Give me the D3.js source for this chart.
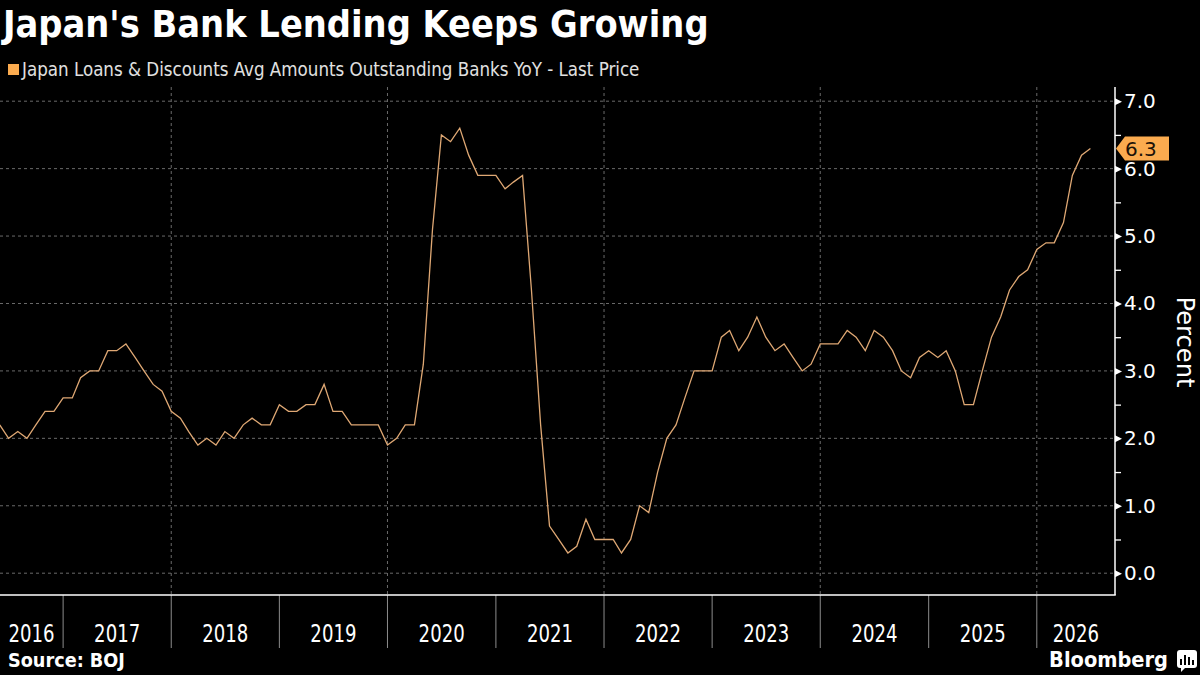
<!DOCTYPE html>
<html>
<head>
<meta charset="utf-8">
<script src="https://cdn.jsdelivr.net/npm/d3@7"></script>
<style>
  html, body { margin: 0; padding: 0; background: #000; }
  svg { display: block; }
</style>
</head>
<body>
<svg id="chart" width="1200" height="675"></svg>
<script>
// ---- data ----
var titleText = "Japan's Bank Lending Keeps Growing";
var seriesName = "Japan Loans & Discounts Avg Amounts Outstanding Banks YoY - Last Price";
var firstMonth = "2016-06";

// monthly YoY %, Jun 2016 onwards
var loanGrowth = [
  2.2, 2.0, 2.1, 2.0, 2.2, 2.4, 2.4,                          // 2016
  2.6, 2.6, 2.9, 3.0, 3.0, 3.3, 3.3, 3.4, 3.2, 3.0, 2.8, 2.7, // 2017
  2.4, 2.3, 2.1, 1.9, 2.0, 1.9, 2.1, 2.0, 2.2, 2.3, 2.2, 2.2, // 2018
  2.5, 2.4, 2.4, 2.5, 2.5, 2.8, 2.4, 2.4, 2.2, 2.2, 2.2, 2.2, // 2019
  1.9, 2.0, 2.2, 2.2, 3.1, 5.1, 6.5, 6.4, 6.6, 6.2, 5.9, 5.9, // 2020
  5.9, 5.7, 5.8, 5.9, 4.2, 2.2, 0.7, 0.5, 0.3, 0.4, 0.8, 0.5, // 2021
  0.5, 0.5, 0.3, 0.5, 1.0, 0.9, 1.5, 2.0, 2.2, 2.6, 3.0, 3.0, // 2022
  3.0, 3.5, 3.6, 3.3, 3.5, 3.8, 3.5, 3.3, 3.4, 3.2, 3.0, 3.1, // 2023
  3.4, 3.4, 3.4, 3.6, 3.5, 3.3, 3.6, 3.5, 3.3, 3.0, 2.9, 3.2, // 2024
  3.3, 3.2, 3.3, 3.0, 2.5, 2.5, 3.0, 3.5, 3.8, 4.2, 4.4, 4.5, // 2025
  4.8, 4.9, 4.9, 5.2, 5.9, 6.2, 6.3                           // 2026
];

var yearLabels = ["2016", "2017", "2018", "2019", "2020", "2021",
                  "2022", "2023", "2024", "2025", "2026"];
var yTicks = [0, 1, 2, 3, 4, 5, 6, 7];
var yMinorTicks = [0.5, 1.5, 2.5, 3.5, 4.5, 5.5, 6.5];

// ---- layout ----
var plot = { left: 0, right: 1115, top: 87, bottom: 595 };
var lineColor = "#dfa874";
var accent = "#fbab4f";
var condensed = "'DejaVu Sans Condensed', 'DejaVu Sans', sans-serif";

var svg = d3.select("#chart");
svg.append("rect").attr("width", 1200).attr("height", 675).attr("fill", "#000");

var parseMonth = d3.timeParse("%Y-%m");
var start = parseMonth(firstMonth);
var data = loanGrowth.map(function(v, i) {
  return { date: d3.timeMonth.offset(start, i), value: v };
});

var x = d3.scaleTime()
    .domain([new Date(2016, 0, 1), new Date(2026, 0, 1)])
    .range([-45.3, 1036.8]);
var y = d3.scaleLinear()
    .domain([0, 7])
    .range([573.2, 101.2]);

// shrink / grow a text so it fills a given width
function fitWidth(sel, w) {
  var len = sel.node().getComputedTextLength();
  var fs = parseFloat(sel.attr("font-size"));
  sel.attr("font-size", fs * w / len);
}

svg.append("clipPath").attr("id", "plotClip")
  .append("rect")
    .attr("x", plot.left).attr("y", plot.top)
    .attr("width", plot.right - plot.left).attr("height", plot.bottom - plot.top);

// title + legend
var t = svg.append("text")
    .attr("x", 3).attr("y", 37)
    .attr("font-family", condensed).attr("font-weight", "bold")
    .attr("font-size", 34).attr("fill", "#fff")
    .text(titleText);
fitWidth(t, 706);

svg.append("rect")
    .attr("x", 8).attr("y", 64).attr("width", 11).attr("height", 11)
    .attr("fill", accent);
var lg = svg.append("text")
    .attr("x", 22).attr("y", 76)
    .attr("font-family", condensed)
    .attr("font-size", 16).attr("fill", "#e0e0e0")
    .text(seriesName);
fitWidth(lg, 618);

// grid
var grid = svg.append("g").attr("class", "grid").attr("clip-path", "url(#plotClip)");
grid.selectAll("line.h")
  .data(yTicks)
  .enter().append("line")
    .attr("class", "h")
    .attr("x1", plot.left).attr("x2", plot.right)
    .attr("y1", function(d) { return y(d); })
    .attr("y2", function(d) { return y(d); })
    .attr("stroke", "#6a6a6a").attr("stroke-width", 1)
    .attr("stroke-dasharray", "3,3");

var yearStarts = yearLabels.map(function(yr) { return new Date(+yr, 0, 1); });

grid.selectAll("line.v")
  .data(yearStarts.filter(function(d) { return d.getFullYear() % 2 === 0; }))
  .enter().append("line")
    .attr("class", "v")
    .attr("x1", function(d) { return x(d); })
    .attr("x2", function(d) { return x(d); })
    .attr("y1", plot.top).attr("y2", plot.bottom)
    .attr("stroke", "#6a6a6a").attr("stroke-width", 1)
    .attr("stroke-dasharray", "3,3");

// series line
var line = d3.line()
    .x(function(d) { return x(d.date); })
    .y(function(d) { return y(d.value); });

svg.append("path")
    .datum(data)
    .attr("clip-path", "url(#plotClip)")
    .attr("fill", "none")
    .attr("stroke", lineColor)
    .attr("stroke-width", 1.3)
    .attr("stroke-linejoin", "miter")
    .attr("d", line);

// bottom axis: year separators + labels
var xAxis = svg.append("g").attr("class", "x-axis");
xAxis.selectAll("line.sep")
  .data(yearStarts.filter(function(d) { return x(d) > plot.left; }))
  .enter().append("line")
    .attr("class", "sep")
    .attr("x1", function(d) { return x(d); })
    .attr("x2", function(d) { return x(d); })
    .attr("y1", plot.bottom).attr("y2", 648)
    .attr("stroke", "#8c8c8c").attr("stroke-width", 1);

// year labels: centred on the visible part of each year, squeezed horizontally
xAxis.selectAll("text")
  .data(yearStarts)
  .enter().append("text")
    .attr("transform", function(d) {
      var a = Math.max(plot.left, x(d));
      var b = Math.min(plot.right, x(d3.timeYear.offset(d, 1)));
      return "translate(" + ((a + b) / 2) + ",642) scale(0.84,1)";
    })
    .attr("text-anchor", "middle")
    .attr("font-family", condensed)
    .attr("font-size", 24)
    .attr("fill", "#fff")
    .text(function(d, i) { return yearLabels[i]; });

// right axis
var yAxis = svg.append("g")
    .attr("class", "y-axis")
    .attr("transform", "translate(" + plot.right + ",0)")
    .call(d3.axisRight(y).tickValues(yTicks).tickSize(0).tickPadding(9)
      .tickFormat(d3.format(".1f")));
yAxis.select(".domain").remove();
yAxis.selectAll("text")
    .attr("font-family", "'DejaVu Sans', sans-serif")
    .attr("font-size", 20)
    .attr("fill", "#fff");
yAxis.selectAll(".tick").append("path")
    .attr("d", "M0,-3.5L7,0L0,3.5Z")
    .attr("fill", "#fff");

svg.append("g")
    .attr("transform", "translate(" + plot.right + ",0)")
    .call(d3.axisRight(y).tickValues(yMinorTicks).tickSize(6).tickFormat(""))
    .call(function(g) {
      g.select(".domain").remove();
      g.selectAll("line").attr("stroke", "#fff").attr("stroke-width", 1.3);
    });

// axis frame lines
svg.append("line")
    .attr("x1", plot.left).attr("x2", plot.right + 0.75)
    .attr("y1", plot.bottom).attr("y2", plot.bottom)
    .attr("stroke", "#fff").attr("stroke-width", 1.5);
svg.append("line")
    .attr("x1", plot.right).attr("x2", plot.right)
    .attr("y1", plot.top).attr("y2", plot.bottom)
    .attr("stroke", "#fff").attr("stroke-width", 1.5);

var pct = svg.append("text")
    .attr("transform", "translate(1177,342) rotate(90)")
    .attr("text-anchor", "middle")
    .attr("font-family", "'DejaVu Sans', sans-serif")
    .attr("font-size", 22)
    .attr("fill", "#fff")
    .text("Percent");
fitWidth(pct, 91);

// last value tag
var last = data[data.length - 1];
var ly = y(last.value);
svg.append("path")
    .attr("d", "M" + (plot.right + 1) + "," + ly +
               "L" + (plot.right + 10) + "," + (ly - 12) +
               "L1169," + (ly - 12) + "L1169," + (ly + 12) +
               "L" + (plot.right + 10) + "," + (ly + 12) + "Z")
    .attr("fill", accent);
svg.append("text")
    .attr("x", plot.right + 10).attr("y", ly)
    .attr("dy", "0.36em")
    .attr("font-family", "'DejaVu Sans', sans-serif")
    .attr("font-size", 20)
    .attr("fill", "#1c1208")
    .text(d3.format(".1f")(last.value));

// footer
var src = svg.append("text")
    .attr("x", 8).attr("y", 667)
    .attr("font-family", condensed).attr("font-weight", "bold")
    .attr("font-size", 17).attr("fill", "#fff")
    .text("Source: BOJ");
fitWidth(src, 117);

var bb = svg.append("text")
    .attr("x", 1168).attr("y", 667)
    .attr("text-anchor", "end")
    .attr("font-family", condensed).attr("font-weight", "bold")
    .attr("font-size", 22).attr("fill", "#fff")
    .text("Bloomberg");
fitWidth(bb, 119);

var logo = svg.append("g").attr("transform", "translate(1177,650)");
logo.append("rect")
    .attr("width", 20).attr("height", 18).attr("rx", 3)
    .attr("fill", "#fff");
logo.append("path")
    .attr("d", "M4,18L4,22L8,18Z")
    .attr("fill", "#fff");
logo.selectAll("rect.bar")
  .data([[4, 9, 6], [8, 5, 10], [12, 7, 8], [16, 10, 5]])
  .enter().append("rect")
    .attr("class", "bar")
    .attr("x", function(d) { return d[0] - 1; })
    .attr("y", function(d) { return d[1]; })
    .attr("width", 2)
    .attr("height", function(d) { return d[2]; })
    .attr("fill", "#000");
</script>
</body>
</html>
